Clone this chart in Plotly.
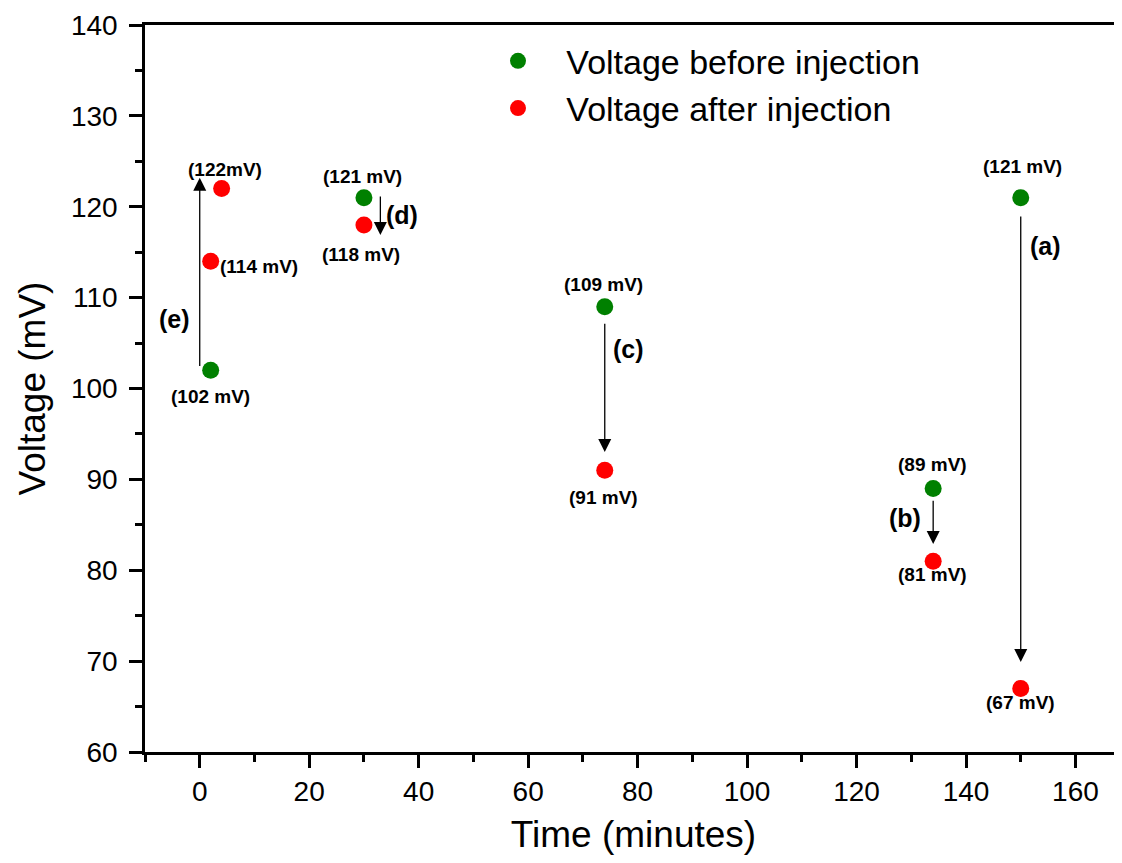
import plotly.graph_objects as go

# ---- data ----
time_before = [150, 134, 74, 30, 2]
volt_before = [121, 89, 109, 121, 102]
time_after = [150, 134, 74, 30, 2, 4]
volt_after = [67, 81, 91, 118, 114, 122]

# value labels: (text, x, y)
value_labels = [
    ("(122mV)", 4.6, 124.1),
    ("(114 mV)", 10.9, 113.4),
    ("(102 mV)", 2, 99.1),
    ("(121 mV)", 29.7, 123.3),
    ("(118 mV)", 29.5, 114.7),
    ("(109 mV)", 73.8, 111.4),
    ("(91 mV)", 73.8, 88.0),
    ("(89 mV)", 133.9, 91.6),
    ("(81 mV)", 133.9, 79.5),
    ("(121 mV)", 150.4, 124.4),
    ("(67 mV)", 149.9, 65.4),
]
# step labels: (text, x, y)
step_labels = [
    ("(a)", 154.5, 115.7),
    ("(b)", 128.9, 85.8),
    ("(c)", 78.3, 104.3),
    ("(d)", 37.0, 119.1),
    ("(e)", -4.6, 107.6),
]
# arrows: (x, y_start, y_end)
arrows = [
    (150, 119.1, 69.9),
    (134, 87.8, 82.9),
    (74, 107.3, 93.0),
    (33, 121.3, 116.9),
    (0, 102.3, 123.2),
]

FONT = "Arial, Liberation Sans, sans-serif"
NB = "\u00a0\u00a0\u00a0"

fig = go.Figure()
fig.add_trace(go.Scatter(
    x=time_before, y=volt_before, mode="markers",
    name=NB + "Voltage before injection",
    marker=dict(color="#008000", size=17),
))
fig.add_trace(go.Scatter(
    x=time_after, y=volt_after, mode="markers",
    name=NB + "Voltage after injection",
    marker=dict(color="#ff0000", size=17),
))

annotations = []
for t, x, y in value_labels:
    annotations.append(dict(x=x, y=y, xref="x", yref="y", text="<b>%s</b>" % t,
                            showarrow=False, font=dict(family=FONT, size=19, color="black")))
for t, x, y in step_labels:
    annotations.append(dict(x=x, y=y, xref="x", yref="y", text="<b>%s</b>" % t,
                            showarrow=False, font=dict(family=FONT, size=25, color="black")))
for x, y0, y1 in arrows:
    annotations.append(dict(x=x, y=y1, ax=x, ay=y0, xref="x", yref="y", axref="x", ayref="y",
                            text="", showarrow=True, arrowhead=2, arrowsize=2,
                            arrowwidth=1.3, arrowcolor="black"))

fig.update_layout(
    width=1114, height=847,
    margin=dict(l=137, r=0, t=17, b=103),
    paper_bgcolor="white", plot_bgcolor="white",
    font=dict(family=FONT, color="black"),
    showlegend=True,
    legend=dict(x=0.3613, y=0.99, xanchor="left", yanchor="top",
                font=dict(family=FONT, size=34, color="black"),
                bgcolor="rgba(0,0,0,0)", tracegroupgap=0),
    annotations=annotations,
    xaxis=dict(
        range=[-10, 168.5], showgrid=False, zeroline=False, automargin=False,
        showline=True, linecolor="black", linewidth=2.5, mirror=True,
        ticks="outside", ticklen=13, tickwidth=2.5, tickcolor="black",
        tickmode="linear", tick0=0, dtick=20,
        minor=dict(ticks="outside", ticklen=7, tickwidth=2.5, tickcolor="black", dtick=10, tick0=0),
        tickfont=dict(family=FONT, size=28, color="black"),
        title=dict(text="Time (minutes)", font=dict(family=FONT, size=37, color="black"), standoff=16),
    ),
    yaxis=dict(
        range=[60, 140], showgrid=False, zeroline=False, automargin=False,
        showline=True, linecolor="black", linewidth=2.5,
        ticks="outside", ticklen=13, tickwidth=2.5, tickcolor="black",
        tickmode="linear", tick0=60, dtick=10, ticklabelstandoff=6,
        minor=dict(ticks="outside", ticklen=7, tickwidth=2.5, tickcolor="black", dtick=5),
        tickfont=dict(family=FONT, size=28, color="black"),
        title=dict(text="Voltage (mV)", font=dict(family=FONT, size=37, color="black"), standoff=14),
    ),
)

fig.write_html("out.html")
